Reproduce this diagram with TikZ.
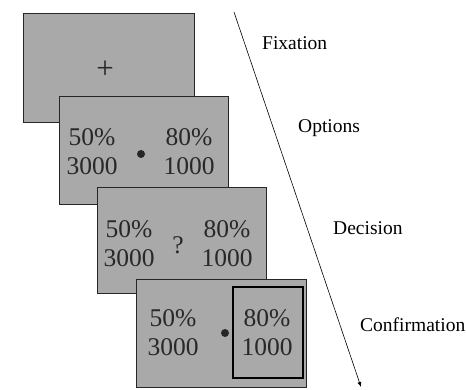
\documentclass[tikz,border=0pt]{standalone}
\usepackage{fontspec}
\setmainfont{Liberation Serif}
\newfontfamily\screenfont{Liberation Serif}
\usetikzlibrary{arrows.meta}
\definecolor{screengray}{RGB}{169,169,169}
\definecolor{inkgray}{RGB}{40,40,40}
\tikzset{
  screen/.style={draw=black!85, line width=0.8pt, fill=screengray, inner sep=0pt},
  option/.style={align=center, text=inkgray, font=\screenfont\fontsize{25.5}{29}\selectfont, inner sep=0pt},
  phase/.style={anchor=west, text=black, font=\screenfont\fontsize{19.5}{22}\selectfont, inner sep=0pt},
  chosen/.style={draw=black, line width=2.6pt, inner sep=0pt}
}
\begin{document}
\begin{tikzpicture}[x=1pt,y=-1pt]
    \useasboundingbox (0,0) rectangle (466,390);
    % fixation screen
    \node[screen, minimum width=171pt, minimum height=109pt] (fixscr) at (108.5,67.5) {};
    \node[option, font=\screenfont\fontsize{31}{34}\selectfont] (cross) at (105,70) {+};
    % options screen
    \node[screen, minimum width=169pt, minimum height=108pt] (optscr) at (143.5,150) {};
    \node[option] (optL) at (92,152) {50\%\\3000};
    \node[option] (optR) at (189,152) {80\%\\1000};
    \node[circle, fill=black!85, minimum size=8pt, inner sep=0pt] (optdot) at (141,154) {};
    % decision screen
    \node[screen, minimum width=169pt, minimum height=106pt] (decscr) at (181.5,240) {};
    \node[option] (decL) at (129,244) {50\%\\3000};
    \node[option] (decR) at (227,244) {80\%\\1000};
    \node[option] (ask) at (178,245) {?};
    % confirmation screen
    \node[screen, minimum width=170pt, minimum height=108pt] (conscr) at (221,333) {};
    \node[option] (conL) at (173,333) {50\%\\3000};
    \node[chosen, minimum width=70pt, minimum height=91pt] (frame) at (268,332.5) {};
    \node[option] (conR) at (267,333) {80\%\\1000};
    \node[circle, fill=black!85, minimum size=8pt, inner sep=0pt] (condot) at (225,333) {};
    % time axis
    \coordinate (tstart) at (234,12);
    \coordinate (tend) at (361,387);
    \draw[line width=0.6pt, -{Latex[length=5pt,width=4pt]}] (tstart) -- (tend);
    \node[phase] (lfix) at (262,43) {Fixation};
    \node[phase] (lopt) at (298,128) {Options};
    \node[phase] (ldec) at (333,228) {Decision};
    \node[phase] (lcon) at (360,325) {Confirmation};
\end{tikzpicture}
\end{document}
